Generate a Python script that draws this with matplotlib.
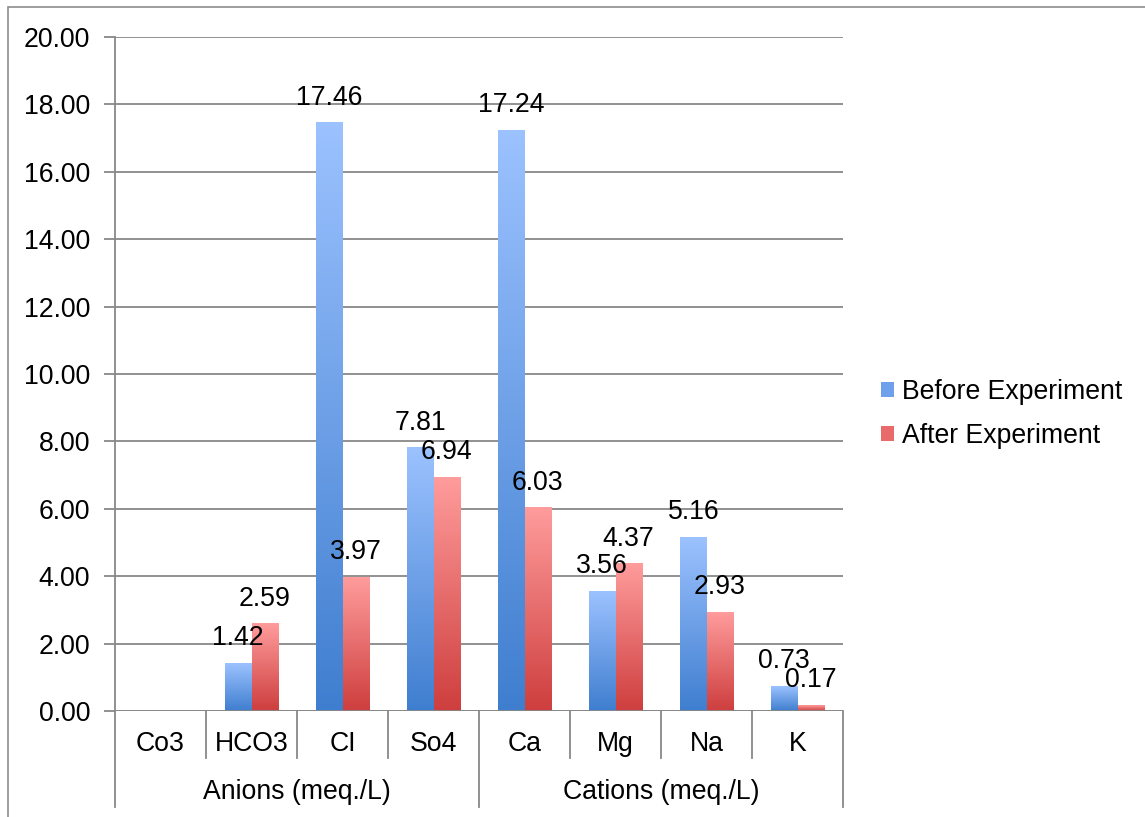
import numpy as np
import matplotlib.pyplot as plt
from matplotlib.colors import LinearSegmentedColormap
from matplotlib.patches import Patch, Rectangle

plt.rcParams['font.family'] = ['Liberation Sans', 'DejaVu Sans']

ions = ["Co3", "HCO3", "CI", "So4", "Ca", "Mg", "Na", "K"]
groups = ["Anions (meq./L)", "Cations (meq./L)"]
group_size = [4, 4]
before = [np.nan, 1.42, 17.46, 7.81, 17.24, 3.56, 5.16, 0.73]
after = [np.nan, 2.59, 3.97, 6.94, 6.03, 4.37, 2.93, 0.17]

blue = LinearSegmentedColormap.from_list("blue", ["#3F7ECF", "#9CC2FF"])
red = LinearSegmentedColormap.from_list("red", ["#CE3E3E", "#FF9C9C"])
grey = "#888888"
fs = 19.2

fig = plt.figure(figsize=(11.45, 8.17), dpi=100)
ax = fig.add_axes([115 / 1145, 1 - 711 / 817, 728 / 1145, 674 / 817])

# frame around the whole chart area
fig.patches.append(Rectangle((8 / 1145, -0.1), 1.2, 1 - 7 / 817 + 0.1,
                             transform=fig.transFigure, fill=False,
                             edgecolor="#8c8c8c", lw=1.2))

x = np.arange(len(ions))
w = 0.29
grad = np.linspace(0, 1, 256).reshape(-1, 1)


def gradient_bar(x0, h, cmap):
    if np.isnan(h):
        return
    ax.imshow(grad, extent=[x0, x0 + w, 0, h], origin="lower", cmap=cmap,
              aspect="auto", zorder=3, interpolation="bicubic")
    ax.annotate(f"{h:.2f}", (x0 + w / 2, h), xytext=(0, 18),
                textcoords="offset points", ha="center", va="center",
                fontsize=fs, zorder=5)


for i in range(len(ions)):
    gradient_bar(x[i] - w, before[i], blue)
    gradient_bar(x[i], after[i], red)

ax.set_xlim(-0.5, len(ions) - 0.5)
ax.set_ylim(0, 20)
ax.set_yticks(np.arange(0, 21, 2))
ax.set_yticklabels([f"{v:.2f}" for v in np.arange(0, 21, 2)], fontsize=fs)
ax.yaxis.grid(True, color=grey, lw=1.3)
ax.set_axisbelow(True)
ax.tick_params(axis="y", length=8, width=1.3, color=grey, pad=10)
ax.set_xticks([])
for s in ["top", "right", "bottom"]:
    ax.spines[s].set_visible(False)
ax.spines["left"].set_color(grey)
ax.spines["left"].set_linewidth(1.3)
ax.axhline(0, color=grey, lw=1.3, zorder=4)

# two level category axis
tr = ax.get_xaxis_transform()
short = -47 / 674
long_ = -96 / 674
edges = np.arange(len(ions) + 1) - 0.5
group_edges = np.concatenate([[0], np.cumsum(group_size)]) - 0.5
for e in edges:
    y1 = long_ if e in group_edges else short
    ax.plot([e, e], [0, y1], transform=tr, color=grey, lw=1.3, clip_on=False)
for i, name in enumerate(ions):
    ax.text(x[i], -33 / 674, name, transform=tr, ha="center", va="center",
            fontsize=fs)
for g, name in enumerate(groups):
    mid = (group_edges[g] + group_edges[g + 1]) / 2
    ax.text(mid, -81 / 674, name, transform=tr, ha="center", va="center",
            fontsize=fs)

handles = [Patch(facecolor="#6FA0EC", label="Before Experiment"),
           Patch(facecolor="#E86A6A", label="After Experiment")]
fig.legend(handles=handles, loc="center left",
           bbox_to_anchor=(881 / 1145, 1 - 414 / 817), frameon=False,
           fontsize=fs, handlelength=0.5, handleheight=0.5,
           handletextpad=0.3, labelspacing=0.7, borderpad=0,
           borderaxespad=0)

fig.savefig("out.png", dpi=100)
